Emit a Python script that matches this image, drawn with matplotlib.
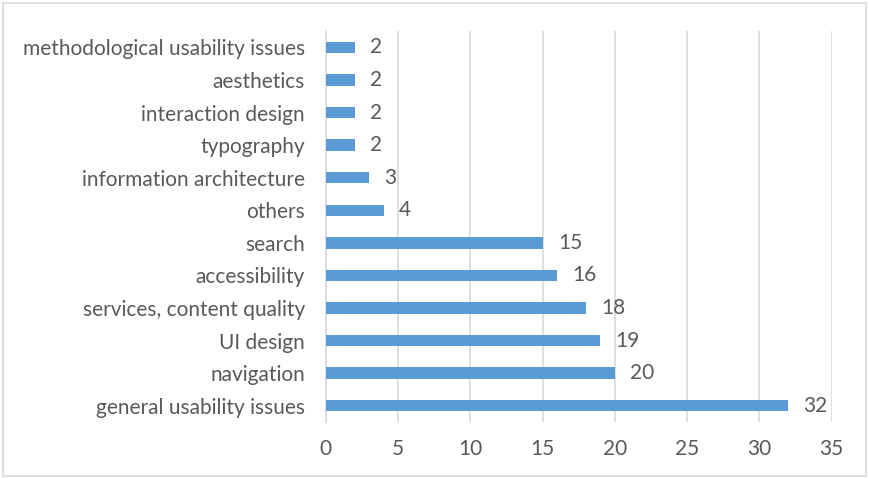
import matplotlib.pyplot as plt
from matplotlib.patches import Rectangle

categories = ["general usability issues", "navigation", "UI design",
              "services, content quality", "accessibility", "search",
              "others", "information architecture", "typography",
              "interaction design", "aesthetics",
              "methodological usability issues"]
counts = [32, 20, 19, 18, 16, 15, 4, 3, 2, 2, 2, 2]
xticks = [0, 5, 10, 15, 20, 25, 30, 35]

bar_color = "#5B9BD5"
text_color = "#595959"
grid_color = "#D9D9D9"

plt.rcParams["font.family"] = ["Lato", "DejaVu Sans"]

fig = plt.figure(figsize=(8.69, 4.78), dpi=100)
ax = fig.add_axes([0.375, 0.117, 0.582, 0.818])

y_pos = range(len(categories))
bars = ax.barh(y_pos, counts, height=0.35, color=bar_color, zorder=3)
for b, v in zip(bars, counts):
    ax.annotate(str(v), (b.get_width(), b.get_y() + b.get_height() / 2),
                xytext=(11, 0), textcoords="offset points",
                ha="left", va="center", fontsize=15, color=text_color)

ax.set_xlim(0, 35)
ax.set_ylim(-0.5, len(categories) - 0.5)
ax.set_xticks(xticks)
ax.set_yticks(list(y_pos))
ax.set_yticklabels(categories)
ax.tick_params(axis="both", length=0, labelsize=15, colors=text_color)
ax.tick_params(axis="y", pad=15)
ax.tick_params(axis="x", pad=12)
ax.grid(axis="x", color=grid_color, linewidth=1.2, zorder=0)
for s in ["top", "right", "bottom"]:
    ax.spines[s].set_visible(False)
ax.spines["left"].set_color(grid_color)
ax.spines["left"].set_linewidth(1.2)

# thin frame round the whole chart
fig.patches.append(Rectangle((0.004, 0.004), 0.992, 0.99, transform=fig.transFigure,
                             fill=False, edgecolor="#D9D9D9", linewidth=1.2))

fig.savefig("out.png", dpi=100)
